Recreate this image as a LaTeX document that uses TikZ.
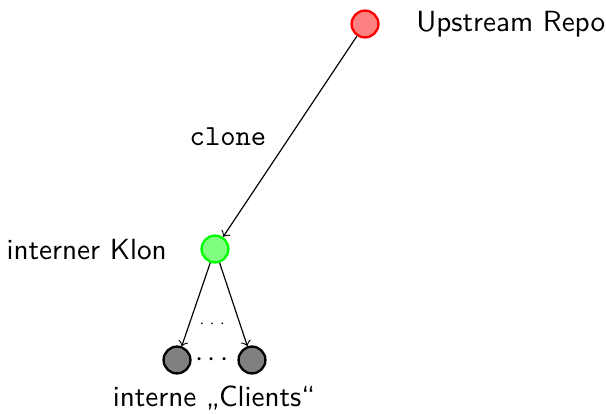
\documentclass[tikz,border=0pt]{standalone}
\usepackage{amsmath, amssymb}
\usepackage{fontspec}
\usepackage{tikz}
\renewcommand{\familydefault}{\sfdefault}

\begin{document}
\begin{tikzpicture}[x=0.343pt, y=-0.343pt, font=\sffamily,
  repo/.style={circle, thick, minimum size=9.2pt, inner sep=0pt},
  link/.style={->, >=to}]
\useasboundingbox (0,0) rectangle (606,414);
\node[repo, draw=red, fill=red!50] (up) at (365,24) {};
\node[repo, draw=green, fill=green!50] (klon) at (215,249) {};
\node[repo, draw=black, fill=gray] (c1) at (177,360) {};
\node[repo, draw=black, fill=gray] (c2) at (252,360) {};
\node [anchor = west] (uplabel) at (406,24) {Upstream Repo};
\node [anchor = east] (klonlabel) at (177,250) {interner Klon};
\node (clone) at (228,137) {\ttfamily clone};
\draw[link] (up)--(klon);
\draw[link] (klon)--(c1);
\draw[link] (klon)--(c2);
\node (dots) at (214.5,360) {$\cdots$};
\node[font=\tiny] (tdots) at (214,324) {$\cdots$};
\node (clients) at (214,398) {interne „Clients“};
\end{tikzpicture}
\end{document}
